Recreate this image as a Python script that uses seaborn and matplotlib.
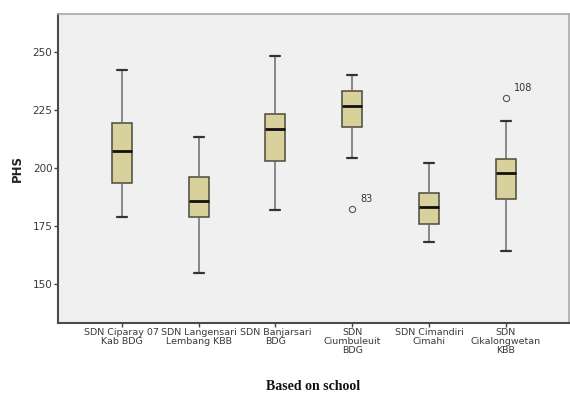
import matplotlib
matplotlib.use("Agg")
import matplotlib.pyplot as plt
import seaborn as sns
import pandas as pd

schools = ["SDN Ciparay 07\nKab BDG", "SDN Langensari\nLembang KBB", "SDN Banjarsari\nBDG",
           "SDN\nCiumbuleuit\nBDG", "SDN Cimandiri\nCimahi", "SDN\nCikalongwetan\nKBB"]
whisk_lo = [178.8, 154.7, 181.7, 204.1, 167.9, 164.2]
q1 = [193.4, 178.6, 202.7, 217.4, 175.5, 186.3]
median = [207.0, 185.5, 216.5, 226.6, 183.2, 197.8]
q3 = [219.1, 196.1, 223.0, 233.2, 188.9, 203.6]
whisk_hi = [242.0, 213.1, 248.1, 239.8, 202.0, 220.2]
outlier_val = [None, None, None, 182.1, None, 230.0]
outlier_id = [None, None, None, "83", None, "108"]

rows = []
for i, s in enumerate(schools):
    pts = [whisk_lo[i], q1[i], q1[i], median[i], median[i], median[i], q3[i], q3[i], whisk_hi[i]]
    o = outlier_val[i]
    if o is not None:
        if o < q1[i]:
            pts[1] = whisk_lo[i]
            pts[0] = o
        else:
            pts[7] = whisk_hi[i]
            pts[8] = o
    for p in pts:
        rows.append({"school": s, "PHS": p})
df = pd.DataFrame(rows)

sns.set_theme(style="white")
plt.rcParams['font.family'] = ['DejaVu Sans']

fig = plt.figure(figsize=(5.7, 3.96), dpi=100)
ax = fig.add_axes([0.1018, 0.185, 0.8962, 0.78])
ax.set_facecolor("#f0f0f0")

sns.boxplot(data=df, x="school", y="PHS", order=schools, ax=ax, width=0.26,
            color="#d8d19b", saturation=1, linewidth=1.1, whis=1.5,
            boxprops=dict(edgecolor="#4a4a3c"),
            whiskerprops=dict(color="#6a6a6a", linewidth=1.1),
            capprops=dict(color="#333333", linewidth=1.6),
            medianprops=dict(color="#111111", linewidth=2.0),
            flierprops=dict(marker="o", markersize=4.5, markerfacecolor="none",
                            markeredgecolor="#555555", markeredgewidth=0.8))

for i in range(len(schools)):
    if outlier_val[i] is not None:
        ax.annotate(outlier_id[i], (i, outlier_val[i]), xytext=(6, 5),
                    textcoords="offset points", fontsize=7, color="#333333")

ax.set_xlim(-0.83, 5.82)
ax.set_ylim(133.1, 266.3)
ax.set_yticks([150, 175, 200, 225, 250])
ax.tick_params(axis="both", which="both", length=3, width=1, color="#444444",
               labelcolor="#3a3a3a", pad=1, bottom=True, left=True)
ax.tick_params(axis="y", labelsize=7.5)
ax.tick_params(axis="x", labelsize=6.8)
for lbl in ax.get_xticklabels():
    lbl.set_linespacing(0.95)

for side in ["left", "bottom"]:
    ax.spines[side].set_color("#4a4a4a")
    ax.spines[side].set_linewidth(1.5)
for side in ["top", "right"]:
    ax.spines[side].set_color("#a8a8a8")
    ax.spines[side].set_linewidth(1.2)

ax.set_ylabel("PHS", fontsize=8.5, fontweight="bold", color="#222222", labelpad=6)
ax.set_xlabel("Based on school", fontsize=10, fontweight="bold", color="#111111",
              family="Liberation Serif", labelpad=18)

fig.savefig("out.png", dpi=100, facecolor="white")
